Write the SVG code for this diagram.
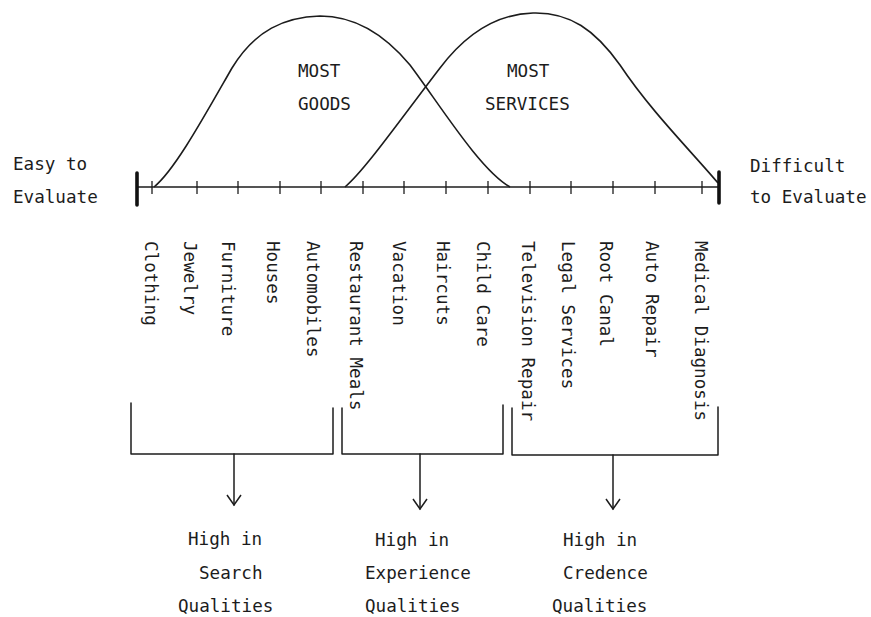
<svg xmlns="http://www.w3.org/2000/svg" width="871" height="617" viewBox="0 0 871 617">
<style>
text{font-family:"DejaVu Sans Mono","Liberation Mono",monospace;font-size:17.6px;fill:#1c1c1c}
.ln{fill:none;stroke:#1c1c1c;stroke-width:1.5;stroke-linecap:round;stroke-linejoin:round}
.crv{fill:none;stroke:#1c1c1c;stroke-width:1.6}
.tick{stroke:#1c1c1c;stroke-width:1.3}
.bar{stroke:#111;stroke-width:3.6;stroke-linecap:round}
</style>
<defs>
<marker id="ah" viewBox="0 0 16 16" refX="14" refY="8" markerWidth="16" markerHeight="16" markerUnits="userSpaceOnUse" orient="auto">
<path d="M4,1 L14,8 L4,15" fill="none" stroke="#1c1c1c" stroke-width="1.5"/>
</marker>
</defs>
<rect width="871" height="617" fill="#fff"/>

<g id="goods-curve">
<path class="crv" d="M154,187 C175,170 205,115 232,68 C255,30 285,17 320,16 C355,16 385,35 410,65 C440,105 480,170 510,187"/>
<text x="298" y="77">MOST</text>
<text x="298" y="110">GOODS</text>
</g>

<g id="services-curve">
<path class="crv" d="M345,187 C365,170 400,120 440,68 C465,35 495,14 533,13 C570,12 595,30 620,65 C650,110 690,150 718,183"/>
<text x="507" y="77">MOST</text>
<text x="485" y="110">SERVICES</text>
</g>

<g id="axis">
<line class="ln" x1="137" y1="187" x2="719" y2="187"/>
<line class="bar" x1="137" y1="173" x2="137" y2="205"/>
<line class="bar" x1="719" y1="172" x2="719" y2="203"/>
<g class="tick">
<line x1="152" y1="181" x2="152" y2="194"/>
<line x1="197" y1="181" x2="197" y2="194"/>
<line x1="238" y1="181" x2="238" y2="194"/>
<line x1="280" y1="181" x2="280" y2="194"/>
<line x1="321" y1="181" x2="321" y2="194"/>
<line x1="363" y1="181" x2="363" y2="194"/>
<line x1="404" y1="181" x2="404" y2="194"/>
<line x1="446" y1="181" x2="446" y2="194"/>
<line x1="488" y1="181" x2="488" y2="194"/>
<line x1="530" y1="181" x2="530" y2="194"/>
<line x1="571" y1="181" x2="571" y2="194"/>
<line x1="613" y1="181" x2="613" y2="194"/>
<line x1="655" y1="181" x2="655" y2="194"/>
<line x1="702" y1="181" x2="702" y2="194"/>
</g>
</g>

<g id="easy-label">
<text x="13" y="170">Easy to</text>
<text x="13" y="203">Evaluate</text>
</g>
<g id="difficult-label">
<text x="750" y="172">Difficult</text>
<text x="750" y="203">to Evaluate</text>
</g>

<g id="items">
<text transform="translate(145,241) rotate(90)">Clothing</text>
<text transform="translate(184,241) rotate(90)">Jewelry</text>
<text transform="translate(222,241) rotate(90)">Furniture</text>
<text transform="translate(267,241) rotate(90)">Houses</text>
<text transform="translate(307,241) rotate(90)">Automobiles</text>
<text transform="translate(350,241) rotate(90)">Restaurant Meals</text>
<text transform="translate(393,241) rotate(90)">Vacation</text>
<text transform="translate(437,241) rotate(90)">Haircuts</text>
<text transform="translate(477,241) rotate(90)">Child Care</text>
<text transform="translate(522,241) rotate(90)">Television Repair</text>
<text transform="translate(562,241) rotate(90)">Legal Services</text>
<text transform="translate(600,241) rotate(90)">Root Canal</text>
<text transform="translate(646,241) rotate(90)">Auto Repair</text>
<text transform="translate(695,241) rotate(90)">Medical Diagnosis</text>
</g>

<g id="bracket-search"><path class="ln" d="M131,403 V454 H333 V408"/></g>
<g id="bracket-experience"><path class="ln" d="M342,408 V454 H503 V405"/></g>
<g id="bracket-credence"><path class="ln" d="M512,408 V455 H718 V407"/></g>

<g id="connectors">
<line class="ln" x1="234" y1="454" x2="234" y2="505" marker-end="url(#ah)"/>
<line class="ln" x1="420" y1="454" x2="420" y2="509" marker-end="url(#ah)"/>
<line class="ln" x1="613" y1="455" x2="613" y2="509" marker-end="url(#ah)"/>
</g>

<g id="search-qualities">
<text x="188" y="545">High in</text>
<text x="199" y="579">Search</text>
<text x="178" y="612">Qualities</text>
</g>
<g id="experience-qualities">
<text x="375" y="546">High in</text>
<text x="365" y="579">Experience</text>
<text x="365" y="612">Qualities</text>
</g>
<g id="credence-qualities">
<text x="563" y="546">High in</text>
<text x="563" y="579">Credence</text>
<text x="552" y="612">Qualities</text>
</g>
</svg>
